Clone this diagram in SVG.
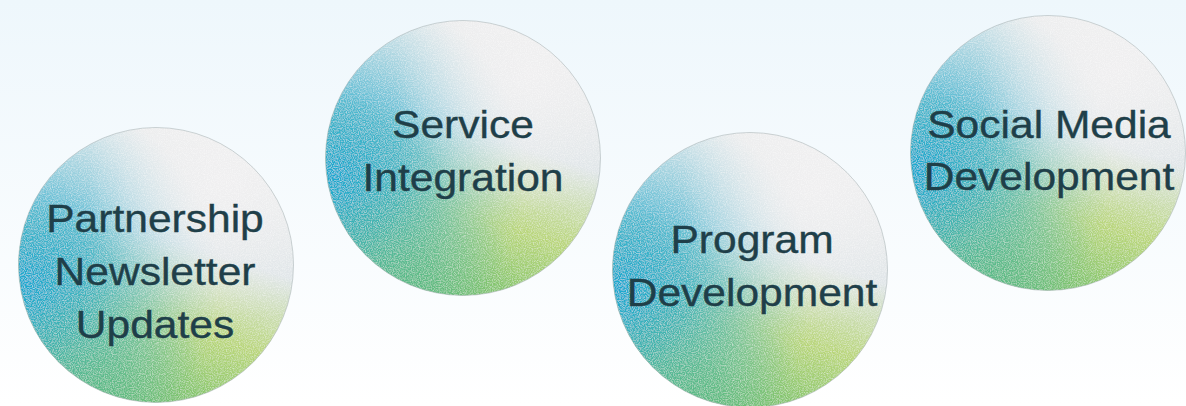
<svg xmlns="http://www.w3.org/2000/svg" width="1186" height="406" viewBox="0 0 1186 406">
  <defs>
    <linearGradient id="bg" x1="0" y1="0" x2="0" y2="1">
      <stop offset="0" stop-color="#eef7fc"/>
      <stop offset="1" stop-color="#ffffff"/>
    </linearGradient>
    <linearGradient id="base" x1="0.72" y1="0" x2="0.4" y2="1">
      <stop offset="0" stop-color="#efefef"/>
      <stop offset="0.42" stop-color="#dde4e7"/>
      <stop offset="0.7" stop-color="#b9d67a"/>
      <stop offset="1" stop-color="#78c166"/>
    </linearGradient>
    <radialGradient id="blue" cx="0.03" cy="0.56" r="0.7">
      <stop offset="0" stop-color="#18a9d0" stop-opacity="1"/>
      <stop offset="0.35" stop-color="#2aaecd" stop-opacity="0.8"/>
      <stop offset="1" stop-color="#7cc4d8" stop-opacity="0"/>
    </radialGradient>
    <radialGradient id="teal" cx="0.3" cy="0.98" r="0.4">
      <stop offset="0" stop-color="#4cb77e" stop-opacity="0.6"/>
      <stop offset="1" stop-color="#4cb77e" stop-opacity="0"/>
    </radialGradient>
    <radialGradient id="white" cx="0.75" cy="0.2" r="0.5">
      <stop offset="0" stop-color="#f1f0f1" stop-opacity="0.95"/>
      <stop offset="1" stop-color="#f1f0f1" stop-opacity="0"/>
    </radialGradient>
    <filter id="grain" x="0" y="0" width="100%" height="100%">
      <feTurbulence type="fractalNoise" baseFrequency="0.85" numOctaves="2" seed="3" result="n"/>
      <feColorMatrix in="n" type="matrix" values="0 0 0 0 1  0 0 0 0 1  0 0 0 0 1  0 0 0 -0.9 0.55" result="nw"/>
      <feComposite in="nw" in2="SourceAlpha" operator="in" result="ng"/>
      <feMerge>
        <feMergeNode in="SourceGraphic"/>
        <feMergeNode in="ng"/>
      </feMerge>
    </filter>
    <g id="ball">
      <circle r="137.5" fill="url(#base)"/>
      <circle r="137.5" fill="url(#blue)"/>
      <circle r="137.5" fill="url(#teal)"/>
      <circle r="137.5" fill="url(#white)"/>
    </g>
  </defs>
  <style>
    .lbl { font-family: "Liberation Sans", Arial, sans-serif; font-size: 38px; fill: #1f3f49; stroke: #1f3f49; stroke-width: 0.35; text-anchor: middle; }
    .edge { fill: none; stroke: #a9b3b5; stroke-width: 0.8; stroke-opacity: 0.7; }
  </style>
  <rect width="1186" height="406" fill="url(#bg)"/>
  <g id="connectors"/>
  <g id="node-partnership">
    <g transform="translate(156,265)" filter="url(#grain)"><use href="#ball"/></g>
    <circle class="edge" cx="156" cy="265" r="137.5"/>
    <g transform="translate(155,0) scale(1.12,1)">
      <text class="lbl" x="0" y="232">Partnership</text>
      <text class="lbl" x="0" y="285">Newsletter</text>
      <text class="lbl" x="0" y="338">Updates</text>
    </g>
  </g>
  <g id="node-service">
    <g transform="translate(463,158)" filter="url(#grain)"><use href="#ball"/></g>
    <circle class="edge" cx="463" cy="158" r="137.5"/>
    <g transform="translate(463,0) scale(1.12,1)">
      <text class="lbl" x="0" y="138">Service</text>
      <text class="lbl" x="0" y="191">Integration</text>
    </g>
  </g>
  <g id="node-program">
    <g transform="translate(750,270)" filter="url(#grain)"><use href="#ball"/></g>
    <circle class="edge" cx="750" cy="270" r="137.5"/>
    <g transform="translate(752,0) scale(1.12,1)">
      <text class="lbl" x="0" y="253">Program</text>
      <text class="lbl" x="0" y="306">Development</text>
    </g>
  </g>
  <g id="node-social">
    <g transform="translate(1048,153)" filter="url(#grain)"><use href="#ball"/></g>
    <circle class="edge" cx="1048" cy="153" r="137.5"/>
    <g transform="translate(1049,0) scale(1.12,1)">
      <text class="lbl" x="0" y="138">Social Media</text>
      <text class="lbl" x="0" y="190">Development</text>
    </g>
  </g>
</svg>
